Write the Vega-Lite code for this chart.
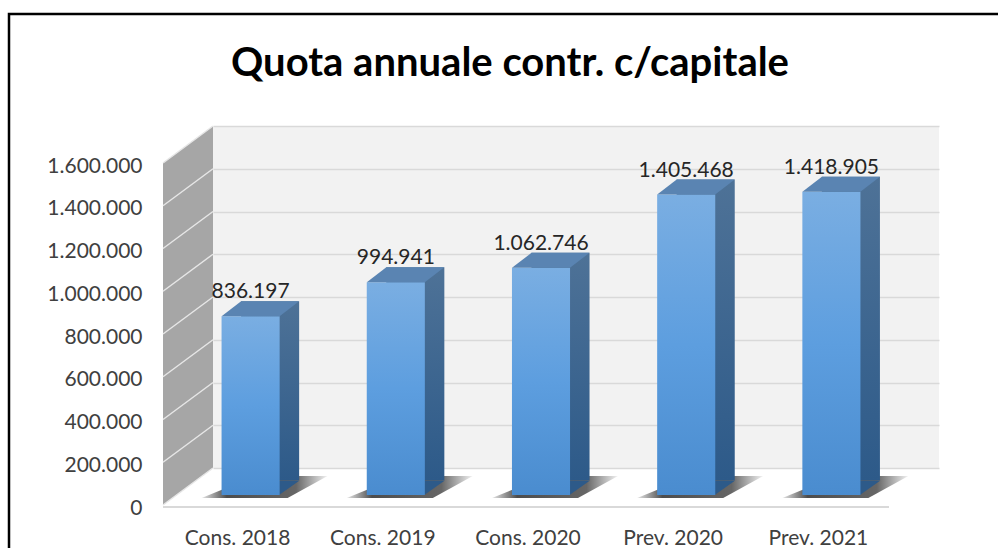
{
  "$schema": "https://vega.github.io/schema/vega-lite/v6.json",
  "width": 726,
  "height": 342,
  "autosize": "none",
  "padding": {"left": 213, "top": 126, "right": 59, "bottom": 80},
  "background": "white",
  "title": {
    "text": "Quota annuale contr. c/capitale",
    "font": "Lato",
    "fontSize": 40,
    "fontWeight": "bold",
    "color": "#000000",
    "anchor": "middle",
    "frame": "group",
    "baseline": "alphabetic",
    "dx": -66,
    "offset": -103
  },
  "config": {
    "locale": {"number": {"decimal": ",", "thousands": ".", "grouping": [3], "currency": ["€", ""]}},
    "view": {"fill": "#f2f2f2", "stroke": null},
    "axis": {"labelFont": "Lato", "labelFontSize": 21, "labelColor": "#404040", "ticks": false, "domain": false}
  },
  "data": {"values": [
    {"periodo": "Cons. 2018", "valore": 836197},
    {"periodo": "Cons. 2019", "valore": 994941},
    {"periodo": "Cons. 2020", "valore": 1062746},
    {"periodo": "Prev. 2020", "valore": 1405468},
    {"periodo": "Prev. 2021", "valore": 1418905}
  ]},
  "layer": [
    {
      "data": {"values": [{}]},
      "mark": {"type": "rect", "fillOpacity": 0, "stroke": "#000000", "strokeWidth": 2.5},
      "encoding": {
        "x": {"value": -204},
        "x2": {"value": 830},
        "y": {"value": -112},
        "y2": {"value": 460}
      }
    },
    {
      "data": {"values": [{}]},
      "mark": {"type": "point", "shape": "M -50 37 L 0 0 L 0 -342 L -50 -305 Z", "size": 4, "filled": true, "fill": "#a6a6a6", "opacity": 1, "strokeWidth": 0},
      "encoding": {
        "x": {"value": 0},
        "y": {"datum": 0, "type": "quantitative", "scale": {"domain": [0, 1600000], "nice": false}, "title": null}
      }
    },
    {
      "data": {"values": [{"t": 0}, {"t": 200000}, {"t": 400000}, {"t": 600000}, {"t": 800000}, {"t": 1000000}, {"t": 1200000}, {"t": 1400000}, {"t": 1600000}]},
      "mark": {"type": "rule", "color": "#e6e6e6", "strokeWidth": 1.5, "x2Offset": -50, "y2Offset": 37},
      "encoding": {
        "x": {"value": 0},
        "x2": {"value": 0},
        "y": {"field": "t", "type": "quantitative", "title": null},
        "y2": {"field": "t"}
      }
    },
    {
      "data": {"values": [{}]},
      "mark": {"type": "rule", "color": "#d9d9d9", "strokeWidth": 2, "xOffset": -50, "x2Offset": -50, "yOffset": 39},
      "encoding": {
        "x": {"value": 0},
        "x2": {"value": 726},
        "y": {"datum": 0, "type": "quantitative", "title": null}
      }
    },
    {
      "mark": {
        "type": "point",
        "shape": "M -84 30 L 2 30 L 42 8 L -30 8 Z",
        "size": 4,
        "filled": true,
        "opacity": 1,
        "strokeWidth": 0,
        "fill": {"gradient": "linear", "x1": 0, "y1": 0, "x2": 1, "y2": 0, "stops": [
          {"offset": 0, "color": "rgba(0,0,0,0.1)"},
          {"offset": 0.2, "color": "rgba(0,0,0,0.7)"},
          {"offset": 0.75, "color": "rgba(0,0,0,0.6)"},
          {"offset": 1, "color": "rgba(0,0,0,0.05)"}
        ]}
      },
      "encoding": {
        "x": {"field": "periodo", "type": "nominal", "title": null},
        "y": {"datum": 0, "type": "quantitative", "title": null}
      }
    },
    {
      "mark": {
        "type": "bar",
        "xOffset": -15.5,
        "yOffset": 12,
        "y2Offset": 12,
        "color": {"gradient": "linear", "x1": 0, "y1": 0, "x2": 0, "y2": 1, "stops": [
          {"offset": 0, "color": "#4e7297"},
          {"offset": 1, "color": "#2d5a89"}
        ]}
      },
      "encoding": {
        "x": {"field": "periodo", "type": "nominal", "title": null},
        "y": {"field": "valore", "type": "quantitative", "title": null}
      }
    },
    {
      "mark": {"type": "point", "shape": "M -6.5 12.5 L -6.5 27 L 14 12.5 Z", "size": 4, "filled": true, "fill": "#2d5a89", "opacity": 1, "strokeWidth": 0},
      "encoding": {
        "x": {"field": "periodo", "type": "nominal", "title": null},
        "y": {"datum": 0, "type": "quantitative", "title": null}
      }
    },
    {
      "mark": {
        "type": "bar",
        "xOffset": -35,
        "yOffset": 27,
        "y2Offset": 27,
        "color": {"gradient": "linear", "x1": 0, "y1": 0, "x2": 0, "y2": 1, "stops": [
          {"offset": 0, "color": "#7aaee2"},
          {"offset": 0.5, "color": "#5d9edf"},
          {"offset": 1, "color": "#4a8ccf"}
        ]}
      },
      "encoding": {
        "x": {
          "field": "periodo",
          "type": "nominal",
          "sort": null,
          "title": null,
          "scale": {"type": "band", "paddingInner": 0.6, "paddingOuter": 0.3},
          "axis": {"labelAngle": 0, "labelAlign": "center", "labelBaseline": "top", "labelOffset": -48, "labelPadding": 59, "grid": false}
        },
        "y": {
          "field": "valore",
          "type": "quantitative",
          "title": null,
          "scale": {"domain": [0, 1600000], "nice": false},
          "axis": {
            "values": [0, 200000, 400000, 600000, 800000, 1000000, 1200000, 1400000, 1600000],
            "format": ",d",
            "grid": true,
            "gridColor": "#d9d9d9",
            "gridWidth": 1.5,
            "labelOffset": 40,
            "labelPadding": 71
          }
        }
      }
    },
    {
      "mark": {"type": "point", "shape": "M -64 27 L -44.5 12 L 13.5 12 L -6 27 Z", "size": 4, "filled": true, "fill": "#5a84b2", "opacity": 1, "strokeWidth": 0},
      "encoding": {
        "x": {"field": "periodo", "type": "nominal", "title": null},
        "y": {"field": "valore", "type": "quantitative", "title": null}
      }
    },
    {
      "mark": {"type": "text", "font": "Lato", "fontSize": 21, "color": "#262626", "align": "center", "baseline": "alphabetic", "dx": -35, "dy": 9},
      "encoding": {
        "x": {"field": "periodo", "type": "nominal", "title": null},
        "y": {"field": "valore", "type": "quantitative", "title": null},
        "text": {"field": "valore", "type": "quantitative", "format": ",d"}
      }
    }
  ]
}
